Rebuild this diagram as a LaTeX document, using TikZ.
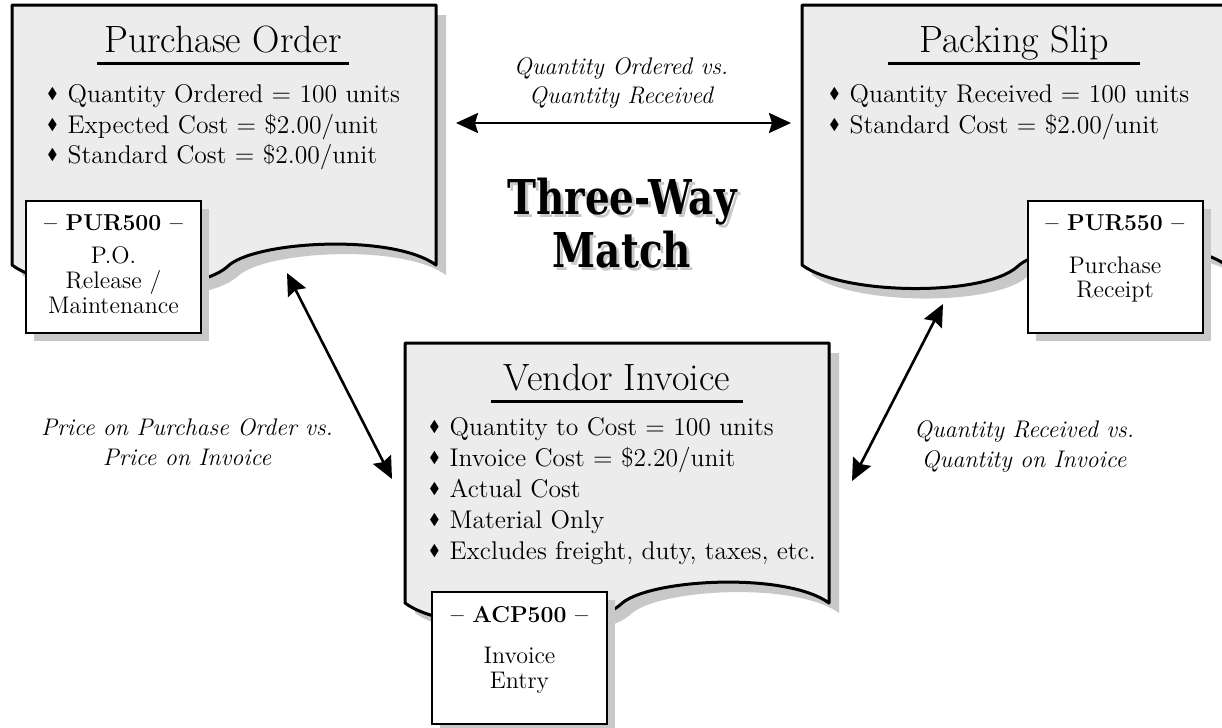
\documentclass[tikz,border=0pt]{standalone}
\usepackage{amssymb}
\usepackage{fontspec}
\newfontfamily\heavyfont{DejaVu Serif}[FakeStretch=0.81]
\usetikzlibrary{arrows.meta,positioning,shadows}

\definecolor{docgray}{RGB}{236,236,236}
\definecolor{shadowgray}{RGB}{200,200,200}

% small diamond in front of every list entry
\newcommand\itm{\raisebox{0.3ex}{\scalebox{0.6}{$\blacklozenge$}}\hspace{5pt}}
% text with a grey copy pushed down and to the right
\newcommand\shadowed[1]{\rlap{\hspace{1.5pt}\raisebox{-1.5pt}{\textcolor{shadowgray}{#1}}}#1}

% paper sheet with a wavy lower edge, drawn from its top left corner
\tikzset{docpage/.pic={
  \path[docbody] (0,0) -- (424,0) -- (424,260)
    .. controls (380,228) and (240,236) .. (215,262)
    .. controls (180,292) and (40,290) .. (0,260) -- cycle;
}}

\begin{document}
\begin{tikzpicture}[x=0.5pt, y=-0.5pt,
  every node/.style={inner sep=0pt, font=\fontsize{12.8}{15}\selectfont},
  docbody/.style={draw, line width=1.5pt, line join=round, fill=docgray,
    drop shadow={shadow xshift=5pt, shadow yshift=-5pt, opacity=1, fill=shadowgray}},
  tagbox/.style={draw, line width=1pt, fill=white, minimum width=87.5pt, minimum height=66pt,
    drop shadow={shadow xshift=4pt, shadow yshift=-4pt, opacity=1, fill=shadowgray}},
  head/.style={font=\fontsize{19}{22}\selectfont, anchor=base},
  rule/.style={line width=1.5pt},
  item/.style={anchor=base west},
  code/.style={font=\fontsize{11.5}{14}\selectfont\bfseries, anchor=base},
  desc/.style={font=\fontsize{12}{14}\selectfont, anchor=base},
  note/.style={font=\fontsize{12}{15}\selectfont\itshape, anchor=base},
  bigtitle/.style={align=center, anchor=base, font=\heavyfont\bfseries\fontsize{24}{22.5}\selectfont},
  link/.style={line width=1.3pt,
    {Stealth[length=11pt,width=10pt,inset=1.5pt]}-{Stealth[length=11pt,width=10pt,inset=1.5pt]}},
]
  \useasboundingbox (0,0) rectangle (1222,728);

  % the three documents
  \pic at (12,5) {docpage};
  \pic at (802,5) {docpage};
  \pic at (405,343) {docpage};

  % purchase order
  \node[head] (po-title) at (223,52) {Purchase Order};
  \draw[rule] ([xshift=-63pt,yshift=-5.5pt]po-title.base) -- ++(252,0);
  \node[item] (po-1) at (47,102) {\itm Quantity Ordered = 100 units};
  \node[item] (po-2) at (47,133) {\itm Expected Cost = \$2.00/unit};
  \node[item] (po-3) at (47,163) {\itm Standard Cost = \$2.00/unit};
  \node[tagbox] (pur500) at (113.5,267) {};
  \node[code] (pur500-c) at (113.5,230) {-- PUR500 --};
  \node[desc] (pur500-1) at (113.5,263) {P.O.};
  \node[desc] (pur500-2) at (113.5,288) {Release /};
  \node[desc] (pur500-3) at (113.5,313) {Maintenance};

  % packing slip
  \node[head] (ps-title) at (1014,52) {Packing Slip};
  \draw[rule] ([xshift=-63pt,yshift=-5.5pt]ps-title.base) -- ++(252,0);
  \node[item] (ps-1) at (829,102) {\itm Quantity Received = 100 units};
  \node[item] (ps-2) at (829,133) {\itm Standard Cost = \$2.00/unit};
  \node[tagbox] (pur550) at (1115,266.5) {};
  \node[code] (pur550-c) at (1115,230) {-- PUR550 --};
  \node[desc] (pur550-1) at (1115,273) {Purchase};
  \node[desc] (pur550-2) at (1115,297) {Receipt};

  % vendor invoice
  \node[head] (vi-title) at (617,390) {Vendor Invoice};
  \draw[rule] ([xshift=-63pt,yshift=-5.5pt]vi-title.base) -- ++(252,0);
  \node[item] (vi-1) at (429,435) {\itm Quantity to Cost = 100 units};
  \node[item] (vi-2) at (429,466) {\itm Invoice Cost = \$2.20/unit};
  \node[item] (vi-3) at (429,497) {\itm Actual Cost};
  \node[item] (vi-4) at (429,528) {\itm Material Only};
  \node[item] (vi-5) at (429,559) {\itm Excludes freight, duty, taxes, etc.};
  \node[tagbox] (acp500) at (519.5,657.5) {};
  \node[code] (acp500-c) at (519.5,622) {-- ACP500 --};
  \node[desc] (acp500-1) at (519.5,663) {Invoice};
  \node[desc] (acp500-2) at (519.5,688) {Entry};

  % title in the middle (base sits on the last line)
  \node[bigtitle] (title) at (622,267) {\shadowed{Three-Way}\\\shadowed{Match}};

  % comparisons between the documents
  \coordinate (qo-l) at (456,123);
  \coordinate (qo-r) at (791,123);
  \coordinate (pi-t) at (287,273);
  \coordinate (pi-b) at (392,479);
  \coordinate (qi-t) at (943,304);
  \coordinate (qi-b) at (852,481);
  \draw[link] (qo-l) -- (qo-r);
  \draw[link] (pi-t) -- (pi-b);
  \draw[link] (qi-t) -- (qi-b);

  \node[note] (qo-1) at (621,75) {Quantity Ordered vs.};
  \node[note] (qo-2) at (621,103) {Quantity Received};
  \node[note] (pi-1) at (187,435) {Price on Purchase Order vs.};
  \node[note] (pi-2) at (187,465) {Price on Invoice};
  \node[note] (qi-1) at (1024,437) {Quantity Received vs.};
  \node[note] (qi-2) at (1024,467) {Quantity on Invoice};
\end{tikzpicture}
\end{document}
